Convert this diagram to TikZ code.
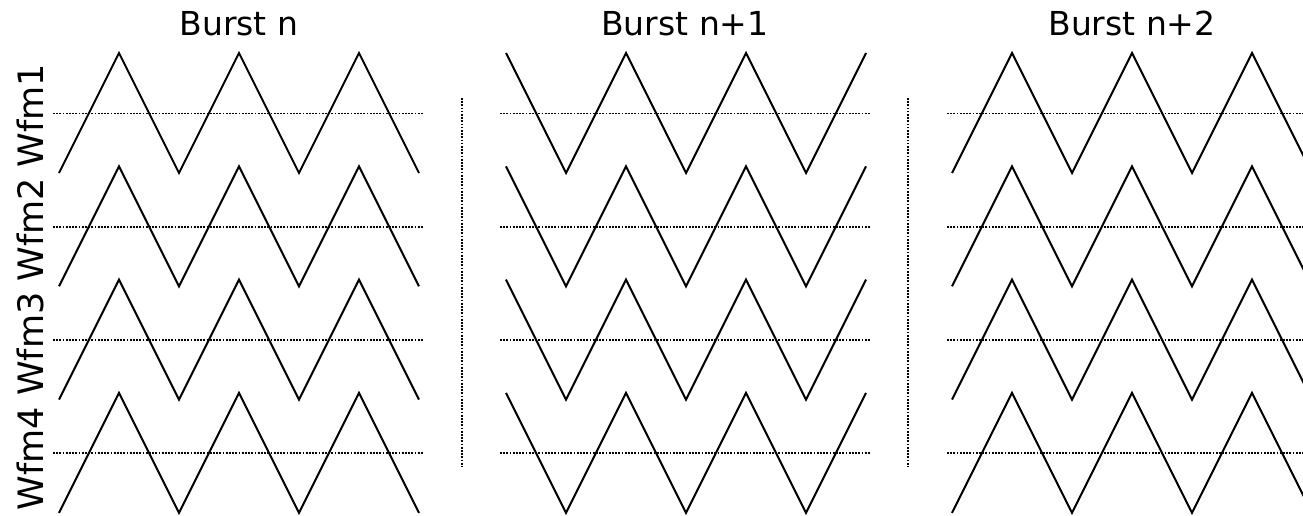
\documentclass[tikz,border=0pt]{standalone}
\usepackage{fontspec}
\setmainfont{DejaVu Sans}
\begin{document}
\begin{tikzpicture}[x=1pt,y=-1pt,
  wave/.style={line width=2pt,line join=miter},
  refline/.style={line width=1.9pt,dash pattern=on 1.7pt off 1.5pt},
  sep/.style={line width=1.9pt,dash pattern=on 1.7pt off 1.5pt},
  lbl/.style={font=\fontsize{33}{40}\selectfont,inner sep=0pt},
  ylbl/.style={font=\fontsize{35}{42}\selectfont,inner sep=0pt}]
\useasboundingbox (0,0) rectangle (1303,516);
\clip (0,0) rectangle (1303,516);
% titles
\node[lbl,anchor=base] (t0) at (239,36) {Burst n};
\node[lbl,anchor=base] (t1) at (685,36) {Burst n+1};
\node[lbl,anchor=base] (t2) at (1132,36) {Burst n+2};
\node[ylbl,anchor=base,rotate=90] (ylab) at (43,287) {Wfm4 Wfm3 Wfm2 Wfm1};
% separators
\draw[sep] (462,98) -- (462,467);
\draw[sep] (908,98) -- (908,467);
\foreach \r in {0,1,2,3}{
  \pgfmathsetmacro{\top}{53+113.3*\r}
  \pgfmathsetmacro{\bot}{173+113.3*\r}
  \pgfmathsetmacro{\mid}{113.5+113.3*\r}
  % dotted reference lines
  \draw[refline] (53,\mid) -- (423,\mid);
  \draw[refline] (500,\mid) -- (870,\mid);
  \draw[refline] (947,\mid) -- (1303,\mid);
  % burst n (starts low)
  \draw[wave] (59,\bot) -- (119,\top) -- (179,\bot) -- (239,\top) -- (299,\bot) -- (359,\top) -- (419,\bot);
  % burst n+1 (starts high)
  \draw[wave] (506,\top) -- (566,\bot) -- (626,\top) -- (686,\bot) -- (746,\top) -- (806,\bot) -- (866,\top);
  % burst n+2 (starts low)
  \draw[wave] (952,\bot) -- (1012,\top) -- (1072,\bot) -- (1132,\top) -- (1192,\bot) -- (1252,\top) -- (1312,\bot);
}
\end{tikzpicture}
\end{document}
